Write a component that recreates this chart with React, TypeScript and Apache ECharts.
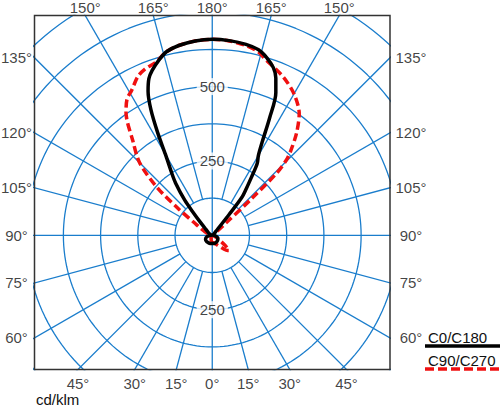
import React, { useEffect, useRef } from "react";
import * as echarts from "echarts";

// ---------- data ----------
// gamma: angle from nadir in degrees, values in cd/klm
const C180_GAMMA = [0, 15, 30, 45, 60, 75, 90, 100, 110, 120, 130, 135, 138, 140, 142, 145, 147, 150, 152, 154, 156, 158, 160, 163, 166, 170, 175, 180];
const C180_CD = [27, 28, 28, 28, 26, 18, 6, 2, 5, 12, 22, 36, 62, 95, 150, 215, 250, 315, 390, 470, 530, 568, 590, 615, 636, 648, 656, 659];

const C0_GAMMA = [0, 15, 30, 45, 60, 75, 90, 100, 110, 120, 130, 138, 141, 142, 144, 146, 148, 150, 152, 154, 156, 158, 160, 163, 166, 170, 175, 180];
const C0_CD = [27, 28, 27, 25, 22, 14, 5, 2, 3, 6, 8, 18, 90, 160, 195, 235, 285, 310, 360, 440, 525, 570, 600, 625, 643, 652, 657, 659];

const C270_GAMMA = [0, 15, 30, 45, 60, 75, 90, 105, 116, 122, 125, 128, 131, 135, 140, 145, 148, 151, 155, 158, 162, 166, 170, 175, 180];
const C270_CD = [27, 15, 8, 5, 4, 4, 5, 10, 27, 50, 72, 140, 245, 345, 415, 505, 540, 558, 590, 603, 612, 636, 648, 656, 659];

const C90_GAMMA = [0, 10, 20, 30, 40, 45, 48, 52, 60, 75, 90, 105, 120, 128, 132, 133, 134, 135.5, 137, 140.5, 144.5, 150, 156, 163, 166, 170, 175, 180];
const C90_CD = [27, 25, 30, 40, 60, 72, 76, 55, 20, 6, 4, 4, 5, 15, 60, 180, 300, 356, 385, 445, 503, 549, 584, 617, 636, 648, 656, 659];

// grid
const RING_VALUES = [125, 250, 375, 500, 625, 750, 875, 1000];
const SPOKE_ANGLES = [0, 15, 30, 45, 60, 75, 90, 105, 120, 135, 150, 165, 180, 195, 210, 225, 240, 255, 270, 285, 300, 315, 330, 345];
const INNER_RING = 125;
const RING_LABELS_UP = [250, 500];
const RING_LABELS_DOWN = [250];
const ANGLE_TICKS = [0, 15, 30, 45, 60, 75, 90, 105, 120, 135, 150, 165, 180];

const LEGEND_NAMES = ["C0/C180", "C90/C270"];
const UNIT_LABEL = "cd/klm";

// axis extents (cd/klm), equal scale in x and y
const X_MIN = -597;
const X_MAX = 597;
const Y_MIN = -451;
const Y_MAX = 739;

// ---------- helpers ----------
const rad = (d: number) => (d * Math.PI) / 180;
const toXY = (gamma: number, r: number, side: number) => [
  side * r * Math.sin(rad(gamma)),
  -r * Math.cos(rad(gamma)),
];

function planeCurve(gL: number[], vL: number[], gR: number[], vR: number[]) {
  const pts: number[][] = [];
  for (let i = 0; i < gL.length; i++) pts.push(toXY(gL[i], vL[i], -1));
  for (let i = gR.length - 2; i >= 0; i--) pts.push(toXY(gR[i], vR[i], 1));
  return pts;
}

const BLUE = "#1a7dcc";
const RED = "#f01010";
const FONT = "'Liberation Sans', Arial, Helvetica, sans-serif";

export default function App() {
  const ref = useRef<HTMLDivElement>(null);

  useEffect(() => {
    if (!ref.current) return;
    const chart = echarts.init(ref.current, null, { renderer: "svg" });

    const series: any[] = [];

    // rings
    RING_VALUES.forEach((r) => {
      const data: number[][] = [];
      for (let a = 0; a <= 360; a += 2) data.push(toXY(a, r, 1));
      series.push({
        type: "line",
        data,
        symbol: "none",
        silent: true,
        z: 1,
        lineStyle: { color: BLUE, width: 1.3 },
      });
    });

    // spokes
    SPOKE_ANGLES.forEach((a) => {
      const r0 = a % 90 === 0 ? 0 : INNER_RING;
      series.push({
        type: "line",
        data: [toXY(a, r0, 1), toXY(a, RING_VALUES[RING_VALUES.length - 1], 1)],
        symbol: "none",
        silent: true,
        z: 1,
        lineStyle: { color: BLUE, width: 1.3 },
      });
    });

    // ring value labels
    const ringLabelData = [
      ...RING_LABELS_UP.map((v) => ({ value: [0, v], name: String(v) })),
      ...RING_LABELS_DOWN.map((v) => ({ value: [0, -v], name: String(v) })),
    ];
    series.push({
      type: "scatter",
      data: ringLabelData,
      symbolSize: 0.1,
      silent: true,
      z: 3,
      itemStyle: { color: "rgba(0,0,0,0)" },
      label: {
        show: true,
        position: "inside",
        formatter: (p: any) => p.name,
        color: "#111",
        fontSize: 15,
        fontFamily: FONT,
        backgroundColor: "#fff",
        padding: [1, 3],
      },
    });

    // angle labels at frame edges
    const angleData: any[] = [];
    ANGLE_TICKS.forEach((g) => {
      const sides = g === 0 || g === 180 ? [1] : [-1, 1];
      sides.forEach((s) => {
        const dx = s * Math.sin(rad(g));
        const dy = -Math.cos(rad(g));
        const tx = Math.abs(dx) < 1e-9 ? Infinity : dx > 0 ? X_MAX / dx : X_MIN / dx;
        const ty = Math.abs(dy) < 1e-9 ? Infinity : dy > 0 ? Y_MAX / dy : Y_MIN / dy;
        let value: number[];
        let offset: number[];
        if (tx < ty) {
          value = [dx > 0 ? X_MAX : X_MIN, dy * tx];
          offset = dx > 0 ? [21, 0] : [-18, 0];
        } else {
          value = [dx * ty, dy > 0 ? Y_MAX : Y_MIN];
          offset = dy > 0 ? [0, -8] : [0, 13.8];
        }
        angleData.push({ value, name: g + "°", label: { offset } });
      });
    });
    series.push({
      type: "scatter",
      data: angleData,
      symbolSize: 0.1,
      clip: false,
      silent: true,
      z: 3,
      itemStyle: { color: "rgba(0,0,0,0)" },
      label: {
        show: true,
        position: "inside",
        formatter: (p: any) => p.name,
        color: "#111",
        fontSize: 15,
        fontFamily: FONT,
      },
    });

    // luminous intensity curves
    series.push({
      name: LEGEND_NAMES[1],
      type: "line",
      data: planeCurve(C270_GAMMA, C270_CD, C90_GAMMA, C90_CD),
      symbol: "none",
      smooth: 0.3,
      z: 4,
      lineStyle: { color: RED, width: 3.5, type: [8, 4], cap: "butt" },
    });
    series.push({
      name: LEGEND_NAMES[0],
      type: "line",
      data: planeCurve(C180_GAMMA, C180_CD, C0_GAMMA, C0_CD),
      symbol: "none",
      smooth: 0.3,
      z: 5,
      lineStyle: { color: "#000", width: 3.5 },
    });

    chart.setOption({
      animation: false,
      grid: { left: 34.5, right: 110, top: 15.5, bottom: 36.5, show: false },
      xAxis: { type: "value", min: X_MIN, max: X_MAX, show: false },
      yAxis: { type: "value", min: Y_MIN, max: Y_MAX, show: false },
      series,
      graphic: [
        {
          type: "rect",
          z: 100,
          shape: { x: 34.5, y: 15.5, width: 355.5, height: 354 },
          style: { fill: "none", stroke: "#333", lineWidth: 1.5 },
          silent: true,
        },
        {
          type: "text",
          z: 100,
          x: 36,
          y: 399,
          style: { text: UNIT_LABEL, fill: "#111", font: `15px ${FONT}`, verticalAlign: "middle", align: "left" },
        },
        {
          type: "text",
          z: 100,
          x: 428,
          y: 337,
          style: { text: LEGEND_NAMES[0], fill: "#111", font: `15px ${FONT}`, verticalAlign: "middle", align: "left" },
        },
        {
          type: "line",
          z: 100,
          shape: { x1: 425, y1: 346, x2: 500, y2: 346 },
          style: { stroke: "#000", lineWidth: 3.5 },
        },
        {
          type: "text",
          z: 100,
          x: 428,
          y: 360.5,
          style: { text: LEGEND_NAMES[1], fill: "#111", font: `15px ${FONT}`, verticalAlign: "middle", align: "left" },
        },
        {
          type: "line",
          z: 100,
          shape: { x1: 425, y1: 369, x2: 500, y2: 369 },
          style: { stroke: RED, lineWidth: 3.5, lineDash: [9, 4] },
        },
      ],
    });

    return () => chart.dispose();
  }, []);

  return (
    <div
      ref={ref}
      style={{ position: "absolute", left: 0, top: 0, width: 500, height: 406, background: "#fff" }}
    />
  );
}
